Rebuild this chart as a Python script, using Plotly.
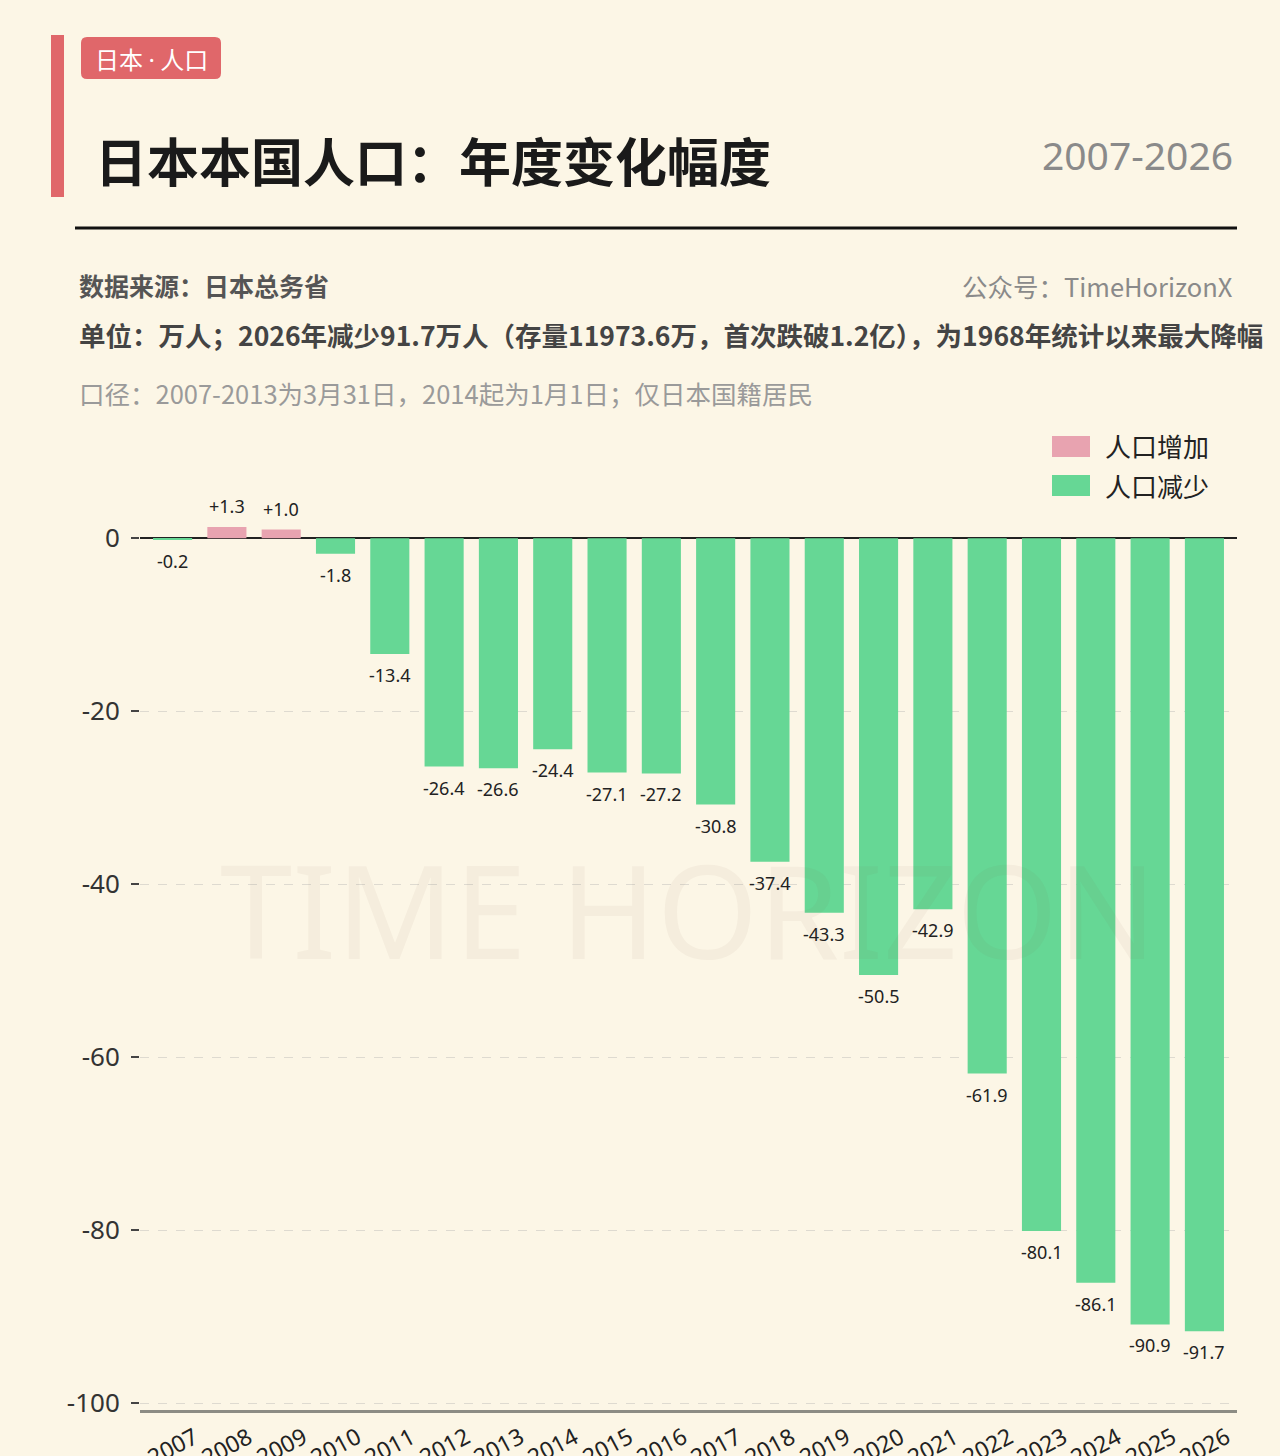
import plotly.graph_objects as go

years = [str(y) for y in range(2007, 2027)]
changes = [-0.2, 1.3, 1.0, -1.8, -13.4, -26.4, -26.6, -24.4, -27.1, -27.2,
           -30.8, -37.4, -43.3, -50.5, -42.9, -61.9, -80.1, -86.1, -90.9, -91.7]
y_ticks = [0, -20, -40, -60, -80, -100]
legend_names = ["人口增加", "人口减少"]

W, H = 1280, 1456
ML, MR, MT, MB = 140, 43, 469, 46
PW, PH = W - ML - MR, H - MT - MB
FONT = "Noto Sans CJK SC, Noto Sans, sans-serif"
NUMFONT = "Noto Sans, sans-serif"
BG = "#FCF6E6"
GREEN = "#66D795"
PINK = "#E8A3B0"
RED = "#E0676A"


def px(x):
    return (x - ML) / PW


def py(y):
    return (H - MB - y) / PH


idx = list(range(len(years)))
pos_vals = [v if v > 0 else None for v in changes]
neg_vals = [v if v <= 0 else None for v in changes]

fig = go.Figure()
fig.add_trace(go.Bar(x=idx, y=pos_vals, marker=dict(color=PINK, line=dict(width=0)),
                     width=0.72, name=legend_names[0], showlegend=False))
fig.add_trace(go.Bar(x=idx, y=neg_vals, marker=dict(color=GREEN, line=dict(width=0)),
                     width=0.72, name=legend_names[1], showlegend=False))

ann = []
# watermark
ann.append(dict(x=px(688), y=py(908), text="TIME HORIZON",
                font=dict(family=NUMFONT, size=130, color="rgba(120,100,70,0.055)"),
                xanchor="center", yanchor="middle"))
# value labels
for i, v in zip(idx, changes):
    ann.append(dict(x=i, y=v, xref="x", yref="y", text=f"{v:+.1f}" if v > 0 else f"{v:.1f}",
                    yshift=21 if v > 0 else -21,
                    font=dict(family=NUMFONT, size=18, color="#222"),
                    xanchor="center", yanchor="middle"))
# x category labels (rotated about their centre)
for i, yr in zip(idx, years):
    ann.append(dict(x=i, y=py(1446), xref="x", yref="paper", text=yr, textangle=-28,
                    font=dict(family=NUMFONT, size=23, color="#222"),
                    xanchor="center", yanchor="middle"))

# header texts
ann += [
    dict(x=px(151), y=py(58),
         text="日本 <span style='font-family:Noto Sans'>·</span> 人口",
         font=dict(size=24, color="white", family=FONT),
         xanchor="center", yanchor="middle"),
    dict(x=px(93), y=py(160), text="<b>日本本国人口：年度变化幅度</b>",
         font=dict(size=52, color="#1a1a1a", family=FONT), xanchor="left", yanchor="middle"),
    dict(x=px(1235), y=py(155), text="2007-2026", font=dict(size=39, color="#8a8a8a", family=NUMFONT),
         xanchor="right", yanchor="middle"),
    dict(x=px(77), y=py(285), text="<b>数据来源：日本总务省</b>", font=dict(size=25, color="#555", family=FONT),
         xanchor="left", yanchor="middle"),
    dict(x=px(1235), y=py(285), text="公众号：TimeHorizonX", font=dict(size=25.5, color="#8a8a8a", family=FONT),
         xanchor="right", yanchor="middle"),
    dict(x=px(77), y=py(335),
         text="<b>单位：万人；2026年减少91.7万人（存量11973.6万，首次跌破1.2亿），为1968年统计以来最大降幅</b>",
         font=dict(size=26.5, color="#444", family=FONT), xanchor="left", yanchor="middle"),
    dict(x=px(77), y=py(393), text="口径：2007-2013为3月31日，2014起为1月1日；仅日本国籍居民",
         font=dict(size=25.5, color="#9a9a9a", family=FONT), xanchor="left", yanchor="middle"),
    dict(x=px(1103), y=py(446), text=legend_names[0], font=dict(size=26, color="#222", family=FONT),
         xanchor="left", yanchor="middle"),
    dict(x=px(1103), y=py(485), text=legend_names[1], font=dict(size=26, color="#222", family=FONT),
         xanchor="left", yanchor="middle"),
]
for a in ann:
    a.setdefault("xref", "paper")
    a.setdefault("yref", "paper")
    a.setdefault("showarrow", False)

r = 6
x0, x1, y0, y1 = 81, 221, 37, 79
tag_path = (f"M {px(x0 + r)},{py(y0)} L {px(x1 - r)},{py(y0)} Q {px(x1)},{py(y0)} {px(x1)},{py(y0 + r)} "
            f"L {px(x1)},{py(y1 - r)} Q {px(x1)},{py(y1)} {px(x1 - r)},{py(y1)} "
            f"L {px(x0 + r)},{py(y1)} Q {px(x0)},{py(y1)} {px(x0)},{py(y1 - r)} "
            f"L {px(x0)},{py(y0 + r)} Q {px(x0)},{py(y0)} {px(x0 + r)},{py(y0)} Z")

shapes = [
    dict(type="rect", xref="paper", yref="paper", x0=px(51), x1=px(64), y0=py(35), y1=py(197),
         fillcolor=RED, line=dict(width=0)),
    dict(type="path", xref="paper", yref="paper", path=tag_path, fillcolor=RED, line=dict(width=0)),
    dict(type="line", xref="paper", yref="paper", x0=px(75), x1=px(1237), y0=py(228), y1=py(228),
         line=dict(color="#111", width=3)),
    dict(type="rect", xref="paper", yref="paper", x0=px(1052), x1=px(1090), y0=py(436), y1=py(457),
         fillcolor=PINK, line=dict(width=0)),
    dict(type="rect", xref="paper", yref="paper", x0=px(1052), x1=px(1090), y0=py(475), y1=py(496),
         fillcolor=GREEN, line=dict(width=0)),
]

fig.update_layout(
    width=W, height=H,
    margin=dict(l=ML, r=MR, t=MT, b=MB, autoexpand=False),
    paper_bgcolor=BG, plot_bgcolor=BG,
    barmode="overlay",
    showlegend=False,
    annotations=ann,
    shapes=shapes,
    font=dict(family=FONT),
    xaxis=dict(type="linear", range=[-0.6, 19.6], showgrid=False, zeroline=False,
               showline=True, linecolor="#8C8C84", linewidth=3,
               showticklabels=False, ticks="", automargin=False),
    yaxis=dict(range=[-100.8, 8], tickvals=y_ticks, ticktext=[str(t) for t in y_ticks],
               showgrid=True, gridcolor="#DEDAD0", griddash="dash", gridwidth=1,
               zeroline=True, zerolinecolor="#222", zerolinewidth=2,
               ticks="outside", ticklen=8, tickwidth=2, tickcolor="#444",
               ticklabelstandoff=6,
               tickfont=dict(size=26, color="#333", family=NUMFONT),
               showline=False, automargin=False),
)

fig.write_html("out.html")
